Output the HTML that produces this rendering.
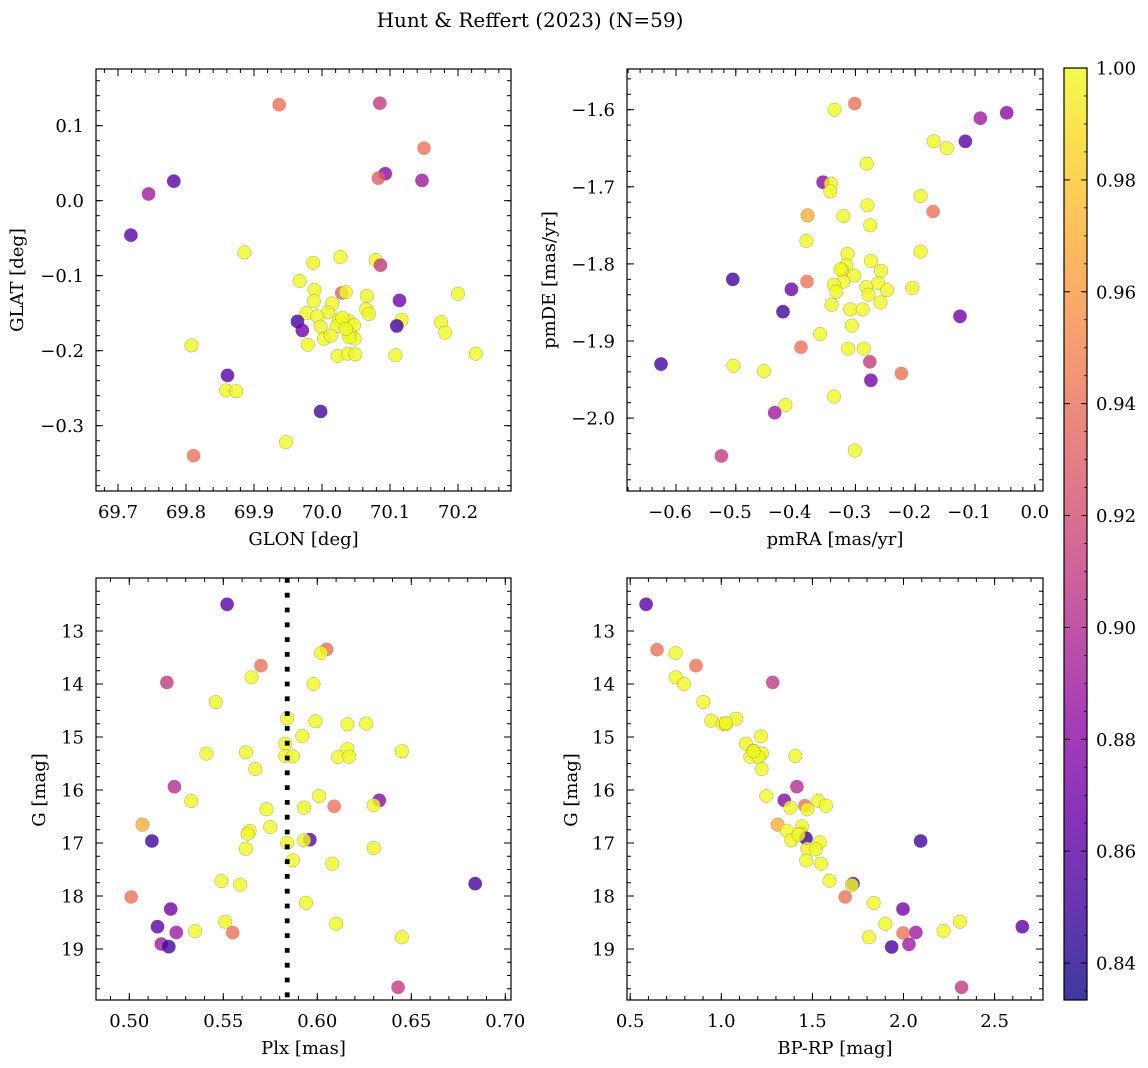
<!DOCTYPE html>
<html><head><meta charset="utf-8">
<style>
html,body{margin:0;padding:0;background:#fff;}
svg{display:block;font-family:"DejaVu Serif","Liberation Serif",serif;}
</style></head>
<body>
<svg id="fig" width="1148" height="1068" viewBox="0 0 1148 1068" xmlns="http://www.w3.org/2000/svg">
<text x="530" y="27" font-size="20" text-anchor="middle">Hunt &amp; Reffert (2023) (N=59)</text>
</svg>
<script>
// ---- Panel 1: GLON / GLAT ----
const glon=[69.937,70.085,70.150,70.093,70.083,70.147,69.782,69.745,69.719,69.886,69.987,70.027,70.079,70.086,69.967,69.989,70.029,70.035,70.066,70.200,70.114,69.988,70.015,70.065,70.069,69.977,70.009,69.993,69.964,70.025,70.040,70.117,70.175,69.971,69.998,70.022,70.047,70.110,70.181,70.003,70.013,70.041,70.048,70.040,69.979,69.808,70.023,70.038,70.049,70.108,70.226,69.861,69.859,69.874,69.998,69.947,69.811,70.030,70.035];
const glat=[0.128,0.130,0.070,0.036,0.030,0.027,0.026,0.009,-0.046,-0.069,-0.083,-0.075,-0.079,-0.086,-0.107,-0.119,-0.123,-0.122,-0.127,-0.124,-0.133,-0.134,-0.137,-0.145,-0.151,-0.150,-0.149,-0.154,-0.161,-0.159,-0.161,-0.159,-0.162,-0.173,-0.168,-0.167,-0.166,-0.167,-0.176,-0.184,-0.180,-0.178,-0.184,-0.182,-0.192,-0.193,-0.207,-0.204,-0.205,-0.206,-0.204,-0.233,-0.253,-0.254,-0.281,-0.322,-0.340,-0.156,-0.171];
const prob1=[0.94,0.91,0.94,0.88,0.93,0.89,0.86,0.89,0.86,1,1,1,1,0.91,1,1,0.93,1,1,1,0.87,1,1,1,1,1,1,1,0.85,1,1,1,1,0.87,1,1,1,0.85,1,1,1,1,1,1,1,1,1,1,1,1,1,0.86,1,1,0.85,1,0.94,1,1];
// ---- Panel 2: pmRA / pmDE ----
const pmra=[-0.335,-0.301,-0.047,-0.091,-0.169,-0.147,-0.116,-0.281,-0.354,-0.341,-0.342,-0.191,-0.280,-0.170,-0.380,-0.320,-0.275,-0.382,-0.191,-0.313,-0.274,-0.315,-0.322,-0.257,-0.505,-0.381,-0.302,-0.320,-0.336,-0.262,-0.407,-0.282,-0.247,-0.205,-0.332,-0.278,-0.258,-0.340,-0.421,-0.309,-0.288,-0.125,-0.306,-0.359,-0.391,-0.312,-0.286,-0.276,-0.625,-0.504,-0.453,-0.223,-0.274,-0.336,-0.417,-0.435,-0.301,-0.524,-0.325];
const pmde=[-1.600,-1.592,-1.604,-1.611,-1.641,-1.650,-1.641,-1.670,-1.694,-1.696,-1.706,-1.712,-1.724,-1.732,-1.737,-1.738,-1.750,-1.770,-1.784,-1.787,-1.796,-1.802,-1.808,-1.809,-1.820,-1.823,-1.815,-1.823,-1.827,-1.825,-1.833,-1.830,-1.834,-1.831,-1.836,-1.840,-1.850,-1.853,-1.862,-1.859,-1.859,-1.868,-1.880,-1.891,-1.908,-1.910,-1.910,-1.927,-1.930,-1.932,-1.939,-1.942,-1.951,-1.972,-1.983,-1.993,-2.042,-2.049,-1.807];
const prob2=[1,0.94,0.88,0.89,1,1,0.86,1,0.88,1,1,1,1,0.94,0.97,1,1,1,1,1,1,1,1,1,0.85,0.94,1,1,1,1,0.87,1,1,1,1,1,1,1,0.85,1,1,0.87,1,1,0.94,1,1,0.91,0.85,1,1,0.94,0.87,1,1,0.89,1,0.91,1];
// ---- Panel 3: Plx / G ----
const plx=[0.552,0.605,0.602,0.570,0.565,0.520,0.598,0.546,0.584,0.599,0.616,0.626,0.592,0.583,0.541,0.562,0.616,0.645,0.583,0.587,0.611,0.617,0.567,0.524,0.533,0.601,0.633,0.630,0.609,0.593,0.573,0.507,0.575,0.564,0.563,0.512,0.596,0.593,0.584,0.562,0.630,0.587,0.608,0.684,0.549,0.559,0.501,0.594,0.522,0.551,0.610,0.515,0.525,0.535,0.555,0.645,0.517,0.521,0.643];
const gmag3=[12.497,13.346,13.415,13.654,13.874,13.969,14.0,14.340,14.648,14.704,14.761,14.748,14.981,15.126,15.314,15.289,15.226,15.270,15.358,15.365,15.377,15.371,15.604,15.937,16.208,16.113,16.195,16.289,16.308,16.333,16.365,16.654,16.698,16.774,16.824,16.962,16.937,16.950,17.0,17.107,17.094,17.327,17.390,17.767,17.717,17.786,18.019,18.126,18.245,18.484,18.522,18.579,18.686,18.660,18.692,18.780,18.906,18.956,19.723];
const prob3=[0.86,0.94,1,0.94,1,0.91,1,1,1,1,1,1,1,1,1,1,1,1,1,1,1,1,1,0.90,1,1,0.88,1,0.94,1,1,0.97,1,1,1,0.85,0.86,1,1,1,1,1,1,0.85,1,1,0.94,1,0.87,1,1,0.86,0.89,1,0.94,1,0.89,0.85,0.91];
const plxRef=[0.584];
// ---- Panel 4: BP-RP / G ----
const bprp=[0.587,0.647,0.749,0.861,1.282,0.749,0.795,0.901,0.945,1.007,1.024,1.082,1.218,1.135,1.177,1.223,1.159,1.205,1.406,1.221,1.415,1.247,1.346,1.532,1.574,1.459,1.472,1.379,1.309,1.360,1.443,1.439,1.465,1.384,1.540,1.472,1.519,2.094,1.466,1.547,1.594,1.723,1.717,1.680,1.836,1.997,1.900,2.310,2.652,1.997,2.068,2.220,1.810,1.935,2.030,2.319,1.177,1.026,1.424];
const gmag4=[12.497,13.352,13.415,13.654,13.969,13.874,14.0,14.340,14.692,14.755,14.761,14.654,14.987,15.126,15.258,15.314,15.371,15.377,15.358,15.604,15.937,16.113,16.195,16.201,16.296,16.296,16.365,16.333,16.654,16.767,16.686,16.824,16.912,16.950,16.987,17.107,17.119,16.962,17.333,17.390,17.711,17.767,17.792,18.019,18.132,18.245,18.522,18.484,18.579,18.698,18.686,18.660,18.780,18.962,18.912,19.723,15.270,14.736,16.843];
const prob4=[0.86,0.94,1,0.94,0.91,1,1,1,1,1,1,1,1,1,1,1,1,1,1,1,0.90,1,0.88,1,1,0.94,1,1,0.97,1,1,1,0.85,1,1,1,1,0.85,1,1,1,0.85,1,0.94,1,0.87,1,1,0.86,0.94,0.89,1,1,0.85,0.89,0.91,1,1,1];
// ---- Colorbar ----
const cbTicks=[0.84,0.86,0.88,0.90,0.92,0.94,0.96,0.98,1.00];

const NS="http://www.w3.org/2000/svg";
const svg=document.getElementById('fig');
function mk(tag,attrs,parent){const e=document.createElementNS(NS,tag);for(const k in attrs)e.setAttribute(k,attrs[k]);(parent||svg).appendChild(e);return e;}
const PMIN=0.8334,PMAX=1.0;
const stops=["#0d0887","#41049d","#6a00a8","#8f0da4","#b12a90","#cc4778","#e16462","#f2844b","#fca636","#fcce25","#f0f921"];
function hex(h){return [parseInt(h.substr(1,2),16),parseInt(h.substr(3,2),16),parseInt(h.substr(5,2),16)];}
function plasma(t){t=Math.max(0,Math.min(1,t));const f=t*10;const i=Math.min(9,Math.floor(f));const u=f-i;const a=hex(stops[i]),b=hex(stops[i+1]);return `rgb(${Math.round(a[0]+(b[0]-a[0])*u)},${Math.round(a[1]+(b[1]-a[1])*u)},${Math.round(a[2]+(b[2]-a[2])*u)})`;}
function pcol(p){return plasma((p-PMIN)/(PMAX-PMIN));}

function fmt(v,d){const s=Math.abs(v).toFixed(d);return (v<-1e-9?'\u2212':'')+s;}
const FS=18;

function panel(name,box,sx,sy,xt,yt,xmin,ymin,xd,yd,xlab,xs,ys,ps){
  const [L,T,R,B]=box;
  const g=mk('g',{});
  
  
  const clipId=name+'-clip';
  const cp=mk('clipPath',{id:clipId},g);mk('rect',{x:L,y:T,width:R-L,height:B-T},cp);
  const pts=mk('g',{'clip-path':`url(#${clipId})`},g);
  
  
  for(let i=0;i<xs.length;i++){
    const c=mk('circle',{cx:sx(xs[i]).toFixed(1),cy:sy(ys[i]).toFixed(1),r:6.8,fill:pcol(ps[i]),'fill-opacity':0.8,stroke:'#555','stroke-opacity':ps[i]>0.95?0.6:0,'stroke-width':0.4},pts);
    
    
  }
  const fr=mk('rect',{x:L,y:T,width:R-L,height:B-T,fill:'none',stroke:'#000','stroke-width':1.2},g);
  
  
  const tk=mk('g',{stroke:'#000','stroke-width':1},g);
  for(const m of xmin){const x=sx(m);if(x<L-0.5||x>R+0.5)continue;mk('line',{x1:x,y1:B,x2:x,y2:B-4},tk);mk('line',{x1:x,y1:T,x2:x,y2:T+4},tk);}
  for(const m of ymin){const y=sy(m);if(y<T-0.5||y>B+0.5)continue;mk('line',{x1:L,y1:y,x2:L+4,y2:y},tk);mk('line',{x1:R,y1:y,x2:R-4,y2:y},tk);}
  for(const v of xt){const x=sx(v);mk('line',{x1:x,y1:B,x2:x,y2:B-7},tk);mk('line',{x1:x,y1:T,x2:x,y2:T+7},tk);
    const t=mk('text',{x:x-(v<-1e-9?6:0),y:B+27,'font-size':FS,'text-anchor':'middle'},g);t.textContent=fmt(v,xd);
    }
  for(const v of yt){const y=sy(v);mk('line',{x1:L,y1:y,x2:L+7,y2:y},tk);mk('line',{x1:R,y1:y,x2:R-7,y2:y},tk);
    const t=mk('text',{x:L-12,y:y+6.5,'font-size':FS,'text-anchor':'end'},g);t.textContent=fmt(v,yd);
    }
  const xl=mk('text',{x:(L+R)/2,y:B+54,'font-size':FS,'text-anchor':'middle'},g);xl.textContent=xlab;
  
  return g;
}
function range(a,b,s){const r=[];for(let v=a;v<=b+1e-9;v+=s)r.push(+v.toFixed(6));return r;}
function ylabel(text,x,y){const t=mk('text',{x:x,y:y,'font-size':FS,'text-anchor':'middle',transform:`rotate(-90 ${x} ${y})`});t.textContent=text;
  }

const sx1=v=>118+(v-69.7)*680, sy1=v=>200.7-v*750;
panel('glon-glat-panel',[96,69,511,491],sx1,sy1,[69.7,69.8,69.9,70.0,70.1,70.2],[0.1,0.0,-0.1,-0.2,-0.3],range(69.66,70.28,0.02),range(-0.38,0.16,0.02),1,1,'GLON [deg]',glon,glat,prob1);
ylabel('GLAT [deg]',23,280);
const sx2=v=>676+(v+0.6)*598, sy2=v=>109.7-(v+1.6)*771;
panel('pmra-pmde-panel',[627,69,1043,491],sx2,sy2,[-0.6,-0.5,-0.4,-0.3,-0.2,-0.1,0.0],[-1.6,-1.7,-1.8,-1.9,-2.0],range(-0.68,0.02,0.02),range(-2.08,-1.54,0.02),1,1,'pmRA [mas/yr]',pmra,pmde,prob2);
ylabel('pmDE [mas/yr]',555,280);
const sx3=v=>129.3+(v-0.5)*1880, sy3=v=>631+(v-13)*53;
panel('plx-g-panel',[96,578,511,1000],sx3,sy3,[0.50,0.55,0.60,0.65,0.70],[13,14,15,16,17,18,19],range(0.48,0.71,0.01),range(12,20,0.25),2,0,'Plx [mas]',plx,gmag3,prob3);
for(const v of plxRef){const l=mk('line',{x1:sx3(v),y1:578,x2:sx3(v),y2:1000,stroke:'#000','stroke-width':4.8,'stroke-dasharray':'4.8 10'});
  }
ylabel('G [mag]',45,790);
const sx4=v=>721.3+(v-1)*182.2, sy4=sy3;
panel('color-magnitude-panel',[627,578,1043,1000],sx4,sy4,[0.5,1.0,1.5,2.0,2.5],[13,14,15,16,17,18,19],range(0.5,2.7,0.1),range(12,20,0.25),1,0,'BP-RP [mag]',bprp,gmag4,prob4);
ylabel('G [mag]',577,790);

const defs=mk('defs',{});
const lg=mk('linearGradient',{id:'cbg',x1:0,y1:1,x2:0,y2:0},defs);
for(let i=0;i<=20;i++){mk('stop',{offset:i/20,'stop-color':plasma(i/20),'stop-opacity':0.8},lg);}
const cbT=68,cbB=1000,cbL=1064,cbR=1087;
const cby=v=>cbB-(v-PMIN)/(PMAX-PMIN)*(cbB-cbT);
const cb=mk('rect',{x:cbL,y:cbT,width:cbR-cbL,height:cbB-cbT,fill:'url(#cbg)',stroke:'#000','stroke-width':1.2});


for(const v of cbTicks){const y=cby(v);mk('line',{x1:cbR,y1:y,x2:cbR-6,y2:y,stroke:'#000','stroke-width':1});mk('line',{x1:cbL,y1:y,x2:cbL+6,y2:y,stroke:'#000','stroke-width':1});
  const t=mk('text',{x:1096,y:y+6.5,'font-size':FS},svg);t.textContent=v.toFixed(2);
  }
for(const v of range(0.835,1.0,0.005)){const y=cby(v);if(y<cbT||y>cbB)continue;mk('line',{x1:cbR,y1:y,x2:cbR-3,y2:y,stroke:'#000','stroke-width':0.8});}
</script>
</body></html>
